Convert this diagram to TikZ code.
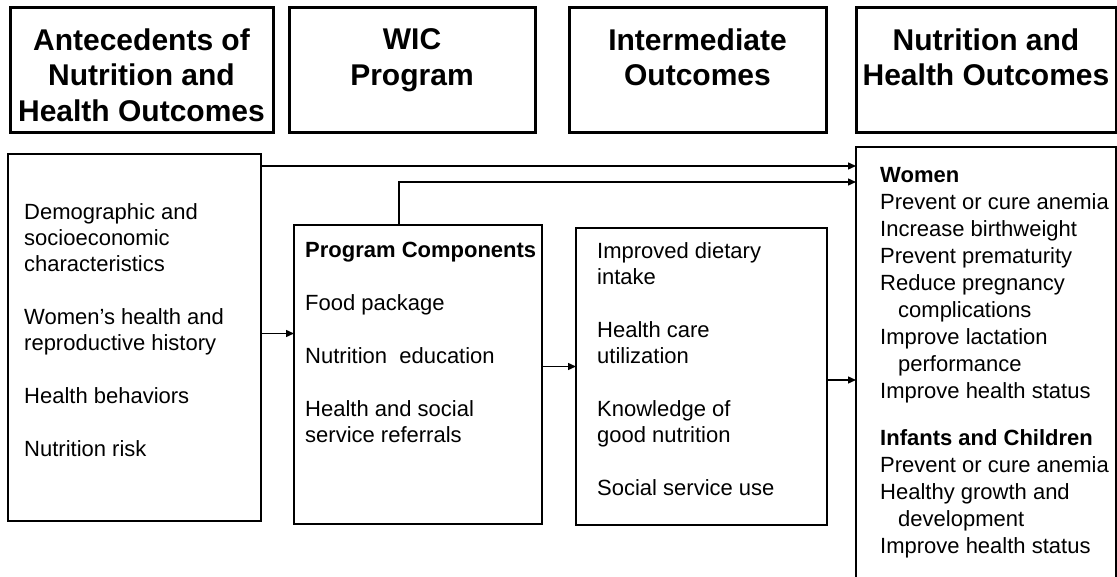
\documentclass[tikz,border=0pt]{standalone}
\usepackage{fontspec}
\setmainfont{Liberation Sans}
\usetikzlibrary{arrows.meta}

\tikzset{
  hdr/.style={draw, line width=3pt, inner sep=0pt, outer sep=0pt, anchor=north west},
  hdrtxt/.style={anchor=north, align=center, inner sep=0pt,
    font=\fontsize{30}{35.5}\selectfont\bfseries},
  box/.style={draw, line width=1.4pt, inner sep=0pt, outer sep=0pt, anchor=north west},
  txt/.style={anchor=north west, align=left, inner sep=0pt,
    font=\fontsize{22}{26}\selectfont},
  flow/.style={line width=1.4pt, -{Triangle[length=8pt,width=7pt]}}
}

\begin{document}
\begin{tikzpicture}[x=1pt, y=-1pt]
  \fill[white] (0,0) rectangle (1117,577);
  \useasboundingbox (0,0) rectangle (1117,577);

  % Column headers
  \node[hdr, minimum width=263pt, minimum height=125pt] (anteH) at (10,8) {};
  \node[hdr, minimum width=246pt, minimum height=125pt] (wicH) at (289,8) {};
  \node[hdr, minimum width=257pt, minimum height=125pt] (interH) at (569,8) {};
  \node[hdr, minimum width=260pt, minimum height=125pt] (outcH) at (856,8) {};
  \node[hdrtxt] (anteHT) at (141.5,28.5) {Antecedents of\\Nutrition and\\Health Outcomes};
  \node[hdrtxt] (wicHT) at (412,28.5) {WIC\\Program};
  \node[hdrtxt] (interHT) at (697.5,28.5) {Intermediate\\Outcomes};
  \node[hdrtxt] (outcHT) at (986,28.5) {Nutrition and\\Health Outcomes};

  % Boxes
  \node[box, minimum width=253pt, minimum height=367pt] (ante) at (8,154) {};
  \node[box, minimum width=248pt, minimum height=299pt] (prog) at (294,225) {};
  \node[box, minimum width=251pt, minimum height=297pt] (inter) at (576,228) {};
  \node[box, minimum width=260pt, minimum height=470pt] (outc) at (856,147) {};

  % Box contents
  \node[txt] (anteT) at (24,203) {Demographic and\\socioeconomic\\characteristics\\[27pt]
    Women’s health and\\reproductive history\\[27pt]
    Health behaviors\\[27pt]
    Nutrition risk};
  \node[txt] (progT) at (305,242) {\textbf{Program Components}\\[27pt]
    Food package\\[27pt]
    Nutrition\ \ education\\[27pt]
    Health and social\\service referrals};
  \node[txt] (interT) at (597,242) {Improved dietary\\intake\\[27pt]
    Health care\\utilization\\[27pt]
    Knowledge of\\good nutrition\\[27pt]
    Social service use};
  \node[txt, font=\fontsize{22}{27}\selectfont] (outcT) at (880,167) {\textbf{Women}\\
    Prevent or cure anemia\\
    Increase birthweight\\
    Prevent prematurity\\
    Reduce pregnancy\\
    \hspace*{18pt}complications\\
    Improve lactation\\
    \hspace*{18pt}performance\\
    Improve health status\\[20pt]
    \textbf{Infants and Children}\\
    Prevent or cure anemia\\
    Healthy growth and\\
    \hspace*{18pt}development\\
    Improve health status};

  % Arrows
  \draw[flow] ([yshift=-12pt]ante.north east) -- ([yshift=-12pt]ante.north east -| outc.west);
  \draw[flow] ([xshift=105pt]prog.north west) |- ([yshift=-35pt]outc.north west);
  \draw[flow] ([yshift=4pt]ante.east) -- ([yshift=4pt]ante.east -| prog.west);
  \draw[flow] ([yshift=8pt]prog.east) -- ([yshift=8pt]prog.east -| inter.west);
  \draw[flow] ([yshift=-3.5pt]inter.east) -- ([yshift=-3.5pt]inter.east -| outc.west);
\end{tikzpicture}
\end{document}
